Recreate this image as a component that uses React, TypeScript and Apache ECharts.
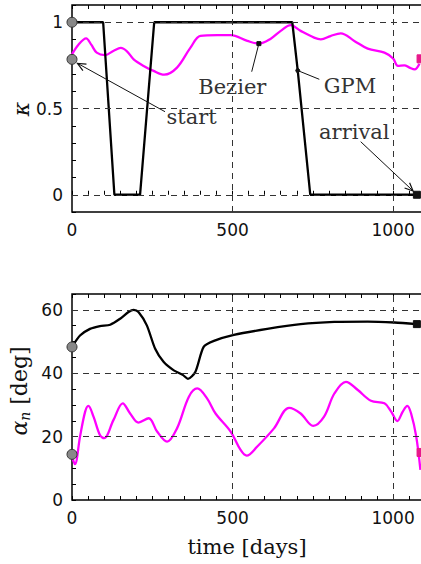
import React, { useEffect, useRef } from 'react';
import * as echarts from 'echarts';

// ---- top panel: kappa ----
const GPM_KAPPA_T = [0, 97, 132, 212, 256, 686, 703, 742, 1074];
const GPM_KAPPA = [1, 1, 0, 0, 1, 1, 0.72, 0, 0];

const BEZ_KAPPA_T = [0, 20, 44, 60, 77, 103, 130, 152, 172, 192, 223, 254, 287, 327, 369, 400, 452, 494, 546, 582, 619, 650, 681, 712, 754, 775, 805, 837, 879, 921, 973, 1000, 1015, 1035, 1051, 1067, 1082];
const BEZ_KAPPA = [0.814, 0.87, 0.907, 0.87, 0.824, 0.81, 0.835, 0.851, 0.83, 0.785, 0.747, 0.718, 0.696, 0.737, 0.853, 0.921, 0.925, 0.925, 0.892, 0.876, 0.905, 0.95, 0.983, 0.95, 0.911, 0.901, 0.92, 0.936, 0.892, 0.847, 0.824, 0.79, 0.747, 0.75, 0.737, 0.727, 0.76];

// ---- bottom panel: alpha_n ----
const GPM_ALPHA_T = [0, 25, 56, 87, 119, 150, 176, 192, 207, 233, 259, 285, 317, 346, 361, 384, 410, 442, 504, 608, 712, 817, 921, 1004, 1074];
const GPM_ALPHA = [48.3, 51.9, 54.0, 54.9, 55.3, 57.2, 59.3, 60.0, 59.3, 55.1, 47.7, 43.6, 40.9, 39.4, 38.2, 40.4, 48.3, 50.2, 52.1, 54.0, 55.5, 56.2, 56.3, 56.0, 55.5];

const BEZ_ALPHA_T = [0, 9, 25, 41, 51, 67, 87, 100, 129, 158, 181, 207, 239, 265, 296, 327, 364, 390, 421, 447, 494, 525, 544, 577, 629, 676, 712, 751, 785, 817, 853, 890, 931, 973, 994, 1013, 1030, 1044, 1056, 1072, 1085];
const BEZ_ALPHA = [13.7, 11.3, 20.0, 27.9, 29.7, 26.3, 20.5, 19.5, 25.2, 30.5, 27.3, 24.4, 25.8, 21.6, 18.4, 22.6, 32.6, 35.2, 32.0, 27.3, 21.6, 15.8, 14.0, 16.9, 22.6, 29.1, 27.3, 23.4, 26.3, 33.6, 37.3, 34.7, 31.3, 30.5, 27.9, 24.9, 27.9, 29.7, 27.3, 20.0, 9.5];

// markers
const START_KAPPA = [[0, 1], [0, 0.785]];
const ARRIVAL_GPM_KAPPA = [[1074, 0]];
const ARRIVAL_BEZ_KAPPA = [[1087, 0.788]];
const START_ALPHA = [[0, 48.3], [0, 14.4]];
const ARRIVAL_GPM_ALPHA = [[1074, 55.5]];
const ARRIVAL_BEZ_ALPHA = [[1087, 15.0]];
const BEZIER_POINT = [582, 0.876];
const GPM_POINT = [703, 0.72];

const X_MAX = 1146;
const X_LABELS = [0, 500, 1000];
const K_LABELS = [0, 0.5, 1];
const A_LABELS = [0, 20, 40, 60];

const zip = (xs: number[], ys: number[]) => xs.map((x, i) => [x, ys[i]]);

const SANS = 'DejaVu Sans';
const SERIF = 'DejaVu Serif';
const MAGENTA = '#ff00ff';
const PINK = '#e8198b';

function arrow(from: number[], to: number[], head: boolean) {
  const els: any[] = [
    {
      type: 'line',
      shape: { x1: from[0], y1: from[1], x2: to[0], y2: to[1] },
      style: { stroke: '#111', lineWidth: 1 },
      z: 50,
    },
  ];
  if (head) {
    const a = Math.atan2(to[1] - from[1], to[0] - from[0]);
    const L = 9;
    const d = 0.42;
    els.push({
      type: 'polyline',
      shape: {
        points: [
          [to[0] - L * Math.cos(a - d), to[1] - L * Math.sin(a - d)],
          [to[0], to[1]],
          [to[0] - L * Math.cos(a + d), to[1] - L * Math.sin(a + d)],
        ],
      },
      style: { stroke: '#111', lineWidth: 1.2, fill: 'none' },
      z: 50,
    });
  }
  return els;
}

function label(text: string, x: number, y: number) {
  return {
    type: 'text',
    x,
    y,
    z: 50,
    style: {
      text,
      fontFamily: SERIF,
      fontSize: 21,
      fill: '#333',
      align: 'center',
      verticalAlign: 'middle',
    },
  };
}

export default function App() {
  const ref = useRef<HTMLDivElement>(null);
  useEffect(() => {
    if (!ref.current) return;
    const chart = echarts.init(ref.current, undefined, { renderer: 'svg' });

    const xFmt = (v: number) => (X_LABELS.includes(Math.round(v)) && Math.abs(v - Math.round(v)) < 1e-6 ? String(Math.round(v)) : '');
    const kFmt = (v: number) => {
      const r = Math.round(v * 10) / 10;
      return K_LABELS.includes(r) ? String(r) : '';
    };
    const aFmt = (v: number) => (A_LABELS.includes(Math.round(v)) ? String(Math.round(v)) : '');

    const tick = { show: true, inside: true, length: 4, lineStyle: { color: '#000', width: 1 } };
    const lab = { fontFamily: SANS, fontSize: 17, color: '#111', margin: 9 };

    const xBase = (gridIndex: number, position: 'bottom' | 'top', showLabel: boolean) => ({
      type: 'value',
      gridIndex,
      position,
      min: 0,
      max: X_MAX,
      interval: 50,
      axisLine: { show: false },
      axisTick: tick,
      splitLine: { show: false },
      axisLabel: showLabel ? { ...lab, formatter: xFmt, showMinLabel: true, showMaxLabel: true } : { show: false },
    });

    const dash = { type: [6, 5], color: '#333', width: 1 };

    const gridLines = (xIdx: number, yIdx: number, ys: number[]) => ({
      type: 'line',
      xAxisIndex: xIdx,
      yAxisIndex: yIdx,
      data: [],
      silent: true,
      z: 1,
      markLine: {
        silent: true,
        symbol: 'none',
        label: { show: false },
        lineStyle: dash,
        animation: false,
        data: [...ys.map((y) => ({ yAxis: y })), { xAxis: 500 }, { xAxis: 1000 }],
      },
    });

    const lineS = (xIdx: number, yIdx: number, data: number[][], color: string, smooth: number | boolean, z: number) => ({
      type: 'line',
      xAxisIndex: xIdx,
      yAxisIndex: yIdx,
      data,
      smooth,
      showSymbol: false,
      symbol: 'none',
      lineStyle: { color, width: 2.3 },
      z,
    });

    const marker = (xIdx: number, yIdx: number, data: number[][], symbol: string, size: number | number[], color: string, border: string) => ({
      type: 'scatter',
      xAxisIndex: xIdx,
      yAxisIndex: yIdx,
      data,
      symbol,
      symbolSize: size,
      clip: false,
      itemStyle: { color, borderColor: border, borderWidth: 1, opacity: 1 },
      z: 10,
    });

    const gridBase = {
      left: 72,
      width: 368,
      show: true,
      borderColor: '#000',
      borderWidth: 1.5,
      backgroundColor: 'transparent',
      containLabel: false,
      outerBoundsMode: 'none',
    };

    const option: any = {
      animation: false,
      backgroundColor: '#fff',
      grid: [
        { ...gridBase, top: 5, height: 207 },
        { ...gridBase, top: 294, height: 206 },
      ],
      xAxis: [xBase(0, 'bottom', true), xBase(0, 'top', false), xBase(1, 'bottom', true), xBase(1, 'top', false)],
      yAxis: [
        {
          type: 'value',
          gridIndex: 0,
          min: -0.1,
          max: 1.1,
          interval: 0.1,
          axisLine: { show: false },
          axisTick: tick,
          splitLine: { show: false },
          axisLabel: { ...lab, formatter: kFmt },
        },
        {
          type: 'value',
          gridIndex: 1,
          min: 0,
          max: 65,
          interval: 5,
          axisLine: { show: false },
          axisTick: tick,
          splitLine: { show: false },
          axisLabel: { ...lab, formatter: aFmt },
        },
      ],
      series: [
        gridLines(0, 0, [0, 0.5, 1]),
        gridLines(2, 1, [20, 40, 60]),
        lineS(0, 0, zip(BEZ_KAPPA_T, BEZ_KAPPA), MAGENTA, 0.35, 3),
        lineS(0, 0, zip(GPM_KAPPA_T, GPM_KAPPA), '#000', false, 4),
        lineS(2, 1, zip(BEZ_ALPHA_T, BEZ_ALPHA), MAGENTA, 0.35, 3),
        lineS(2, 1, zip(GPM_ALPHA_T, GPM_ALPHA), '#000', 0.25, 4),
        marker(0, 0, START_KAPPA, 'circle', 10, '#888', '#333'),
        marker(0, 0, ARRIVAL_GPM_KAPPA, 'rect', 7, '#111', '#111'),
        marker(0, 0, ARRIVAL_BEZ_KAPPA, 'rect', 8, PINK, PINK),
        marker(0, 0, [BEZIER_POINT], 'rect', 4, '#111', '#111'),
        marker(0, 0, [GPM_POINT], 'circle', 4, '#111', '#111'),
        marker(2, 1, START_ALPHA, 'circle', 10, '#888', '#333'),
        marker(2, 1, ARRIVAL_GPM_ALPHA, 'rect', 7, '#111', '#111'),
        marker(2, 1, ARRIVAL_BEZ_ALPHA, 'rect', 8, PINK, PINK),
      ],
    };
    chart.setOption(option);

    const toPx = (p: number[]) => chart.convertToPixel({ xAxisIndex: 0, yAxisIndex: 0 }, p) as number[];
    const startPx = toPx(START_KAPPA[1]);
    const arrPx = toPx(ARRIVAL_GPM_KAPPA[0]);
    const bezPx = toPx(BEZIER_POINT);
    const gpmPx = toPx(GPM_POINT);

    const graphic: any[] = [
      ...arrow([165, 111.7], [startPx[0] + 5.5, startPx[1] + 4], true),
      ...arrow([360.7, 141.7], [arrPx[0] - 3.8, arrPx[1] - 3.8], true),
      ...arrow([251.7, 71.7], bezPx, false),
      ...arrow([319.3, 79.3], gpmPx, false),
      label('start', 191.7, 116.7),
      label('Bezier', 232.3, 87.3),
      label('GPM', 350, 86),
      label('arrival', 354.3, 131.7),
      {
        type: 'text',
        x: 21,
        y: 109,
        rotation: Math.PI / 2,
        style: {
          text: 'κ',
          fontFamily: SERIF,
          fontStyle: 'italic',
          fontSize: 22,
          fill: '#111',
          align: 'center',
          verticalAlign: 'middle',
        },
      },
      {
        type: 'text',
        x: 19,
        y: 391,
        rotation: Math.PI / 2,
        style: {
          text: '{a|α}{s|n}{b| [deg]}',
          align: 'center',
          verticalAlign: 'middle',
          rich: {
            a: { fontFamily: SERIF, fontStyle: 'italic', fontSize: 22, fill: '#111', color: '#111' },
            s: { fontFamily: SERIF, fontStyle: 'italic', fontSize: 14, fill: '#111', color: '#111', verticalAlign: 'bottom', padding: [12, 0, 0, 0] },
            b: { fontFamily: SERIF, fontSize: 22, fill: '#111', color: '#111' },
          },
        },
      },
      {
        type: 'text',
        x: 247,
        y: 547,
        style: {
          text: 'time [days]',
          fontFamily: SERIF,
          fontSize: 21,
          fill: '#111',
          align: 'center',
          verticalAlign: 'middle',
        },
      },
    ];
    chart.setOption({ graphic });

    return () => chart.dispose();
  }, []);

  return <div ref={ref} style={{ position: 'fixed', left: 0, top: 0, width: 440, height: 564 }} />;
}
